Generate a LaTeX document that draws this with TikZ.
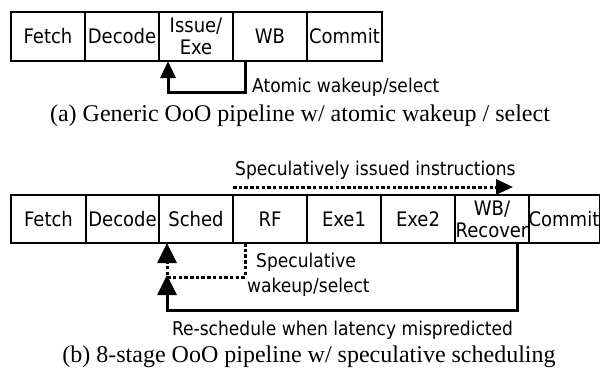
\documentclass[tikz,border=0pt]{standalone}
\usepackage{fontspec}
\setmainfont{Liberation Serif}
\newfontfamily\stagefont{DejaVu Sans Condensed}
\usetikzlibrary{arrows.meta,calc}

\tikzset{
  stage/.style={draw, line width=1.2pt, inner sep=0pt, outer sep=0pt,
    minimum height=#1, font=\stagefont\fontsize{20}{22}\selectfont, align=center},
  stage/.default=49pt,
  lbl/.style={inner sep=0pt, font=\stagefont\fontsize{19}{21}\selectfont},
  figcaption/.style={inner sep=0pt, font=\fontsize{24}{27}\selectfont},
  solidwire/.style={line width=3pt},
  dotwire/.style={line width=3pt, dash pattern=on 3.5pt off 2.2pt},
  bigtip/.style={-{Triangle[length=20pt,width=19pt]}},
  smalltip/.style={-{Triangle[length=17pt,width=15pt]}},
}

\begin{document}
\begin{tikzpicture}[x=1pt,y=-1pt]
  \useasboundingbox (0,0) rectangle (601,372);

  % (a) five-stage pipeline
  \node[stage, minimum width=74pt] (afetch)  at (48,36.5)    {Fetch};
  \node[stage, minimum width=74pt] (adecode) at (122,36.5)   {Decode};
  \node[stage, minimum width=74pt] (aissue)  at (196,36.5)   {Issue/\\Exe};
  \node[stage, minimum width=74pt] (awb)     at (270,36.5)   {WB};
  \node[stage, minimum width=75pt] (acommit) at (344.5,36.5) {Commit};

  \draw[solidwire, smalltip]
    ([xshift=12pt]awb.south west) -- ++(0,31) -| ([xshift=9pt]aissue.south west);
  \node[lbl, anchor=west] (alabel) at (252,87) {Atomic wakeup/select};

  \node[figcaption] (capa) at (300,116) {(a) Generic OoO pipeline w/ atomic wakeup / select};

  % (b) eight-stage pipeline
  \node[stage=48pt, minimum width=75pt] (bfetch)  at (48.5,219) {Fetch};
  \node[stage=48pt, minimum width=73pt] (bdecode) at (122.5,219) {Decode};
  \node[stage=48pt, minimum width=74pt] (bsched)  at (196,219)   {Sched};
  \node[stage=48pt, minimum width=74pt] (brf)     at (270,219)   {RF};
  \node[stage=48pt, minimum width=74pt] (bexea)   at (344,219)   {Exe1};
  \node[stage=48pt, minimum width=74pt] (bexeb)   at (418,219)   {Exe2};
  \node[stage=48pt, minimum width=74pt] (bwb)     at (492,219)   {WB/\\Recover};
  \node[stage=48pt, minimum width=70pt] (bcommit) at (564,219)   {Commit};

  % speculatively issued instructions
  \node[lbl, anchor=west] (issuedlbl) at (235,170) {Speculatively issued instructions};
  \draw[dotwire, smalltip]
    ([yshift=8pt]brf.north west) -- ([shift={(58pt,8pt)}]bwb.north west);

  % speculative wakeup/select loop
  \coordinate (specturn) at (167,277);
  \draw[dotwire, bigtip]
    ([xshift=12pt]brf.south west) |- (specturn) -- ([xshift=8pt]bsched.south west);
  \node[lbl, anchor=west] (speclbl)  at (256,262) {Speculative};
  \node[lbl, anchor=west] (speclblb) at (247,287) {wakeup/select};

  % re-schedule loop
  \coordinate (reschedtip) at (167,275);
  \draw[solidwire, bigtip]
    ([xshift=-12pt]bwb.south east) -- ++(0,67) -| (reschedtip);
  \node[lbl] (reschedlbl) at (342.5,330) {Re-schedule when latency mispredicted};

  \node[figcaption] (capb) at (309,357) {(b) 8-stage OoO pipeline w/ speculative scheduling};
\end{tikzpicture}
\end{document}
